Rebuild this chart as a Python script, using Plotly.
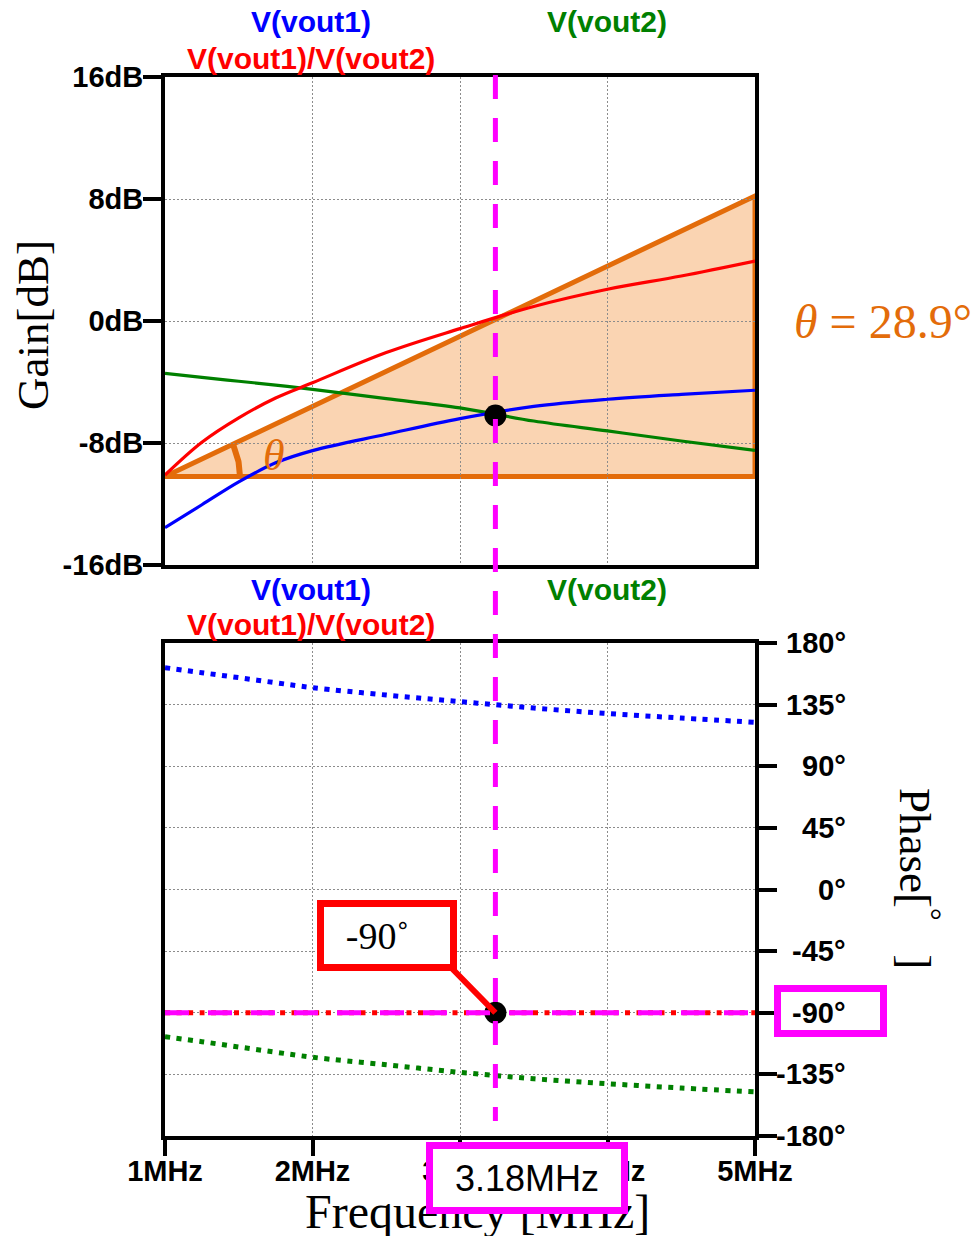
import numpy as np
import plotly.graph_objects as go

W, H = 974, 1236

# ---------------- data ----------------
freq = [1.0, 1.25, 1.5, 1.75, 2.0, 2.5, 3.0, 3.5, 4.0, 4.5, 5.0]          # MHz
gain_vout1 = [-13.55, -12.05, -10.55, -9.3, -8.5, -7.43, -6.4, -5.6, -5.13, -4.81, -4.54]
gain_vout2 = [-3.43, -3.7, -3.95, -4.2, -4.48, -5.09, -5.7, -6.56, -7.21, -7.87, -8.48]
gain_ratio = [-10.1, -7.95, -6.35, -5.05, -4.05, -2.07, -0.5, 0.95, 2.08, 2.95, 3.93]

phase_vout1 = [162.0, 158.3, 154.7, 151.0, 147.4, 142.0, 137.2, 132.5, 128.5, 125.2, 122.1]
phase_vout2 = [-107.5, -111.1, -115.0, -118.8, -122.5, -128.0, -133.5, -138.2, -141.8, -145.0, -147.8]
phase_ratio = [-90.0] * len(freq)

cross_freq = 3.24
cross_gain = -6.2
cross_phase = -90
cross_label = "3.18MHz"

tri_x = [1.0, 5.0, 5.0]
tri_y = [-10.2, 8.2, -10.2]
theta_text = "28.9°"

gain_ticks = [-16, -8, 0, 8, 16]
gain_ticktext = ["-16dB", "-8dB", "0dB", "8dB", "16dB"]
phase_ticks = [-180, -135, -90, -45, 0, 45, 90, 135, 180]
freq_ticks = [1, 2, 3, 4, 5]
freq_ticktext = ["1MHz", "2MHz", "3MHz", "4MHz", "5MHz"]

# ---------------- style ----------------
BLUE, RED, GREEN = "#0000FF", "#FF0000", "#008000"
ORANGE, PEACH, MAGENTA = "#E36C0A", "#FAD4B2", "#FF00FF"
SANS = "Arial, Liberation Sans, sans-serif"
SERIF = "Times New Roman, Liberation Serif, serif"
GRID = "#8C8C8C"

XD = [165 / W, 755 / W]
YD_TOP = [1 - 565 / H, 1 - 77 / H]
YD_BOT = [1 - 1136 / H, 1 - 643 / H]

px_per_x = (XD[1] - XD[0]) * W / 4.0
px_per_y = (YD_TOP[1] - YD_TOP[0]) * H / 32.0


def px(x):
    return x / W


def py(y):
    return 1 - y / H


fig = go.Figure()

# angle arc at triangle vertex
ang = np.arctan2((tri_y[1] - tri_y[0]) * px_per_y, (tri_x[1] - tri_x[0]) * px_per_x)
t = np.linspace(0, ang, 40)
r = 75
fig.add_trace(go.Scatter(x=tri_x[0] + r * np.cos(t) / px_per_x,
                         y=tri_y[0] + r * np.sin(t) / px_per_y,
                         mode="lines", line=dict(color=ORANGE, width=6),
                         xaxis="x", yaxis="y", showlegend=False, hoverinfo="skip"))

# gain curves
for yv, c in [(gain_vout2, GREEN), (gain_vout1, BLUE), (gain_ratio, RED)]:
    fig.add_trace(go.Scatter(x=freq, y=yv, mode="lines", line=dict(color=c, width=3.2, shape="spline"),
                             xaxis="x", yaxis="y", showlegend=False))

fig.add_trace(go.Scatter(x=[cross_freq], y=[cross_gain], mode="markers",
                         marker=dict(color="black", size=22), xaxis="x", yaxis="y",
                         showlegend=False, cliponaxis=False))

# phase curves
for yv, c in [(phase_vout1, BLUE), (phase_vout2, GREEN), (phase_ratio, RED)]:
    fig.add_trace(go.Scatter(x=freq, y=yv, mode="lines",
                             line=dict(color=c, width=5, dash="5px,6.5px", shape="spline"),
                             xaxis="x2", yaxis="y2", showlegend=False))

fig.add_trace(go.Scatter(x=[cross_freq], y=[cross_phase], mode="markers",
                         marker=dict(color="black", size=22), xaxis="x2", yaxis="y2",
                         showlegend=False, cliponaxis=False))

# ---------------- shapes ----------------
shapes = [
    dict(type="path", xref="x", yref="y", layer="below",
         path=f"M {tri_x[0]},{tri_y[0]} L {tri_x[1]},{tri_y[1]} L {tri_x[2]},{tri_y[2]} Z",
         fillcolor=PEACH, line=dict(color=ORANGE, width=5)),
    dict(type="line", xref="x", yref="paper", layer="above",
         x0=cross_freq, x1=cross_freq, y0=py(75), y1=py(1121),
         line=dict(color=MAGENTA, width=5, dash="24px,19px")),
    dict(type="line", xref="x2", yref="y2", layer="above",
         x0=1, x1=5, y0=cross_phase, y1=cross_phase,
         line=dict(color=MAGENTA, width=5, dash="24px,19px")),
]

# ---------------- annotations ----------------
ann = []


def text(x, y, s, size, color, family=SANS, weight="bold", **kw):
    d = dict(x=px(x), y=py(y), xref="paper", yref="paper", text=s, showarrow=False,
             font=dict(family=family, size=size, color=color, weight=weight),
             xanchor="center", yanchor="middle")
    d.update(kw)
    ann.append(d)


# legends
text(311, 22, "V(vout1)", 30, BLUE)
text(311, 58, "V(vout1)/V(vout2)", 30, RED)
text(607, 22, "V(vout2)", 30, GREEN)
text(311, 590, "V(vout1)", 30, BLUE)
text(311, 624, "V(vout1)/V(vout2)", 30, RED)
text(607, 590, "V(vout2)", 30, GREEN)

# axis titles
text(33, 325, "Gain[dB]", 45, "black", family=SERIF, weight="normal", textangle=-90)
text(919, 878, "Phase[<sup>°</sup>\u00a0\u00a0\u00a0]", 45, "black", family=SERIF, weight="normal", textangle=90)
text(477, 1211, "Frequency [MHz]", 48, "black", family=SERIF, weight="normal")

# theta annotations
text(792, 322, "<i>θ</i> = " + theta_text, 48, ORANGE, family=SERIF, weight="normal", xanchor="left")
ann.append(dict(x=1.74, y=-8.8, xref="x", yref="y", text="<i>θ</i>", showarrow=False,
                font=dict(family=SERIF, size=44, color=ORANGE)))

# callout leader line
ann.append(dict(x=cross_freq, y=cross_phase, xref="x2", yref="y2", text="", showarrow=True,
                ax=-50, ay=-51, axref="pixel", ayref="pixel", arrowhead=0, arrowwidth=6,
                arrowcolor=RED, standoff=0))
# callout box
text(387, 935, "-90˚\u00a0\u00a0", 38, "black", family=SERIF, weight="normal",
     bgcolor="white", bordercolor=RED, borderwidth=7, borderpad=0, width=126, height=57)
# magenta boxes
text(830, 1011, " ", 20, "black", bgcolor="white", bordercolor=MAGENTA, borderwidth=7,
     borderpad=0, width=99, height=38)
text(527, 1177.5, cross_label, 36, "black", weight="normal",
     bgcolor="white", bordercolor=MAGENTA, borderwidth=7, borderpad=0, width=188, height=58)

# right-side phase tick labels (right aligned)
for v in phase_ticks:
    ann.append(dict(x=px(848), y=v, xref="paper", yref="y2", text=f"{v}°", showarrow=False,
                    xanchor="right", yanchor="middle",
                    font=dict(family=SANS, size=29, color="black", weight="bold")))

axis_common = dict(showline=True, linecolor="black", linewidth=4, mirror=True,
                   showgrid=True, gridcolor=GRID, gridwidth=1, griddash="2px,2px",
                   zeroline=False, tickcolor="black", tickwidth=4, automargin=False)
tickfont = dict(family=SANS, size=29, color="black", weight="bold")

fig.update_layout(
    width=W, height=H, autosize=False,
    margin=dict(l=0, r=0, t=0, b=0, pad=0),
    paper_bgcolor="white", plot_bgcolor="white",
    showlegend=False,
    xaxis=dict(domain=XD, range=[1, 5], anchor="y", tickvals=freq_ticks, ticks="",
               showticklabels=False, **axis_common),
    yaxis=dict(domain=YD_TOP, range=[-16, 16], anchor="x", tickvals=gain_ticks,
               ticktext=gain_ticktext, ticks="outside", ticklen=18, tickfont=tickfont,
               ticklabelstandoff=-6, **axis_common),
    xaxis2=dict(domain=XD, range=[1, 5], anchor="y2", tickvals=freq_ticks,
                ticktext=freq_ticktext, ticks="outside", ticklen=16, tickfont=tickfont,
                ticklabelstandoff=-10, **axis_common),
    yaxis2=dict(domain=YD_BOT, range=[-180, 180], anchor="x2", side="right",
                tickvals=phase_ticks, ticks="outside", ticklen=18, showticklabels=False,
                **axis_common),
    shapes=shapes,
    annotations=ann,
)

fig.write_html("out.html")
